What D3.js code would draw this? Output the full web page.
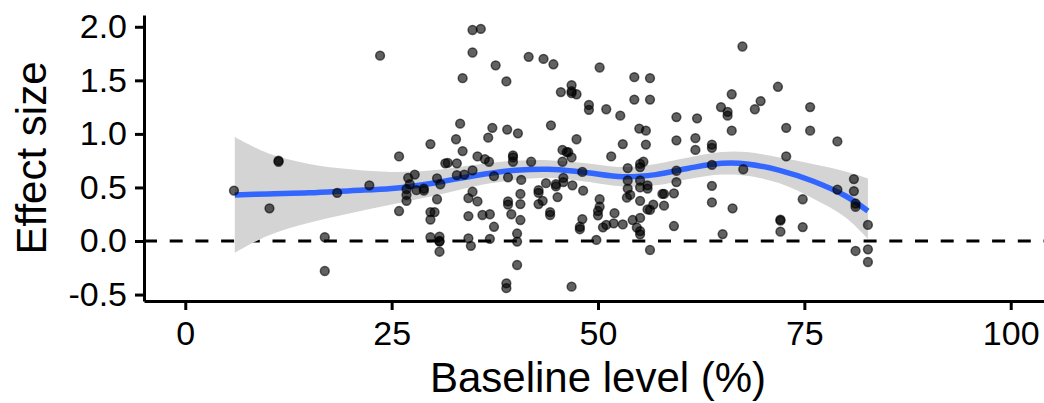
<!DOCTYPE html>
<html lang="en">
<head>
    <meta charset="UTF-8">
    <title>Effect size vs baseline level</title>
    <script src="https://d3js.org/d3.v7.min.js"></script>
    <style>
        body {
            margin: 0;
            background: #fff;
        }
        svg text {
            font-family: 'Liberation Sans', Arial, Helvetica, sans-serif;
            fill: #000;
        }
    </style>
</head>
<body>
    <div id="chart"></div>

    <script>
        // scatter points: baseline level (%) and effect size
        const baseline = [
            23.6, 5.9, 11.3, 11.3, 10.2, 18.4, 16.9, 16.9, 22.3, 25.9, 25.9, 29.7, 27.0, 27.8, 27.2, 26.8, 26.8, 26.8, 28.0, 28.9, 28.9, 30.5, 30.9, 30.5, 29.7, 30.2, 29.7, 29.7, 30.8, 30.8, 30.8, 30.8, 31.5,
            34.8, 35.8, 34.8, 33.6, 37.6, 38.9, 41.6, 43.4, 44.6, 50.2, 54.4, 56.3, 54.4, 56.3, 45.5, 46.8, 46.8, 46.8, 47.4, 48.9, 48.9, 51.0, 52.7,
            33.3, 37.2, 39.0, 40.3, 44.3, 55.0, 55.8, 32.8, 36.7, 47.4, 53.0, 55.8, 33.6, 35.4, 36.3, 36.8, 39.7, 39.7, 31.8, 32.9, 39.7, 41.9,
            45.7, 46.2, 46.4, 46.8, 45.7, 51.6, 34.8, 32.9, 33.8, 37.4, 39.1, 48.1, 53.6, 55.1, 55.1, 55.5, 40.7, 45.8, 45.8, 43.7, 44.9, 44.9,
            46.9, 53.6, 55.1, 53.6, 55.1, 56.0, 56.0, 34.8, 34.3, 35.4, 42.8, 42.8, 43.3, 42.8, 40.6, 40.6, 39.1, 39.1, 45.1, 48.2, 50.2, 50.2,
            50.0, 50.0, 52.0, 53.5, 53.9, 55.1, 56.7, 56.0, 56.3, 57.8, 34.3, 36.0, 36.9, 39.5, 40.6, 44.2, 44.2, 37.4, 40.2, 40.2, 36.9, 34.3,
            34.6, 48.1, 47.8, 47.8, 50.6, 51.0, 51.9, 53.0, 54.2, 55.1, 54.7, 55.1, 55.1, 49.8, 56.3, 40.2, 38.9, 38.9, 46.8,
            67.5, 71.8, 66.2, 69.7, 69.0, 64.9, 65.7, 65.7, 75.7, 59.5, 62.0, 66.2, 72.8, 75.7, 59.5, 61.8, 61.8, 63.8, 63.8, 79.0, 72.8, 63.8,
            59.5, 67.6, 59.5, 58.0, 59.2, 58.0, 63.8, 63.8, 66.3, 59.2, 65.1, 74.8, 74.8, 72.1, 72.1, 72.1, 79.0, 81.0, 81.0, 81.2, 81.2, 82.7,
            81.2, 82.7, 82.7
        ];
        const effect = [
            1.73, 0.47, 0.74, 0.75, 0.305, 0.45, 0.035, -0.28, 0.52, 0.79, 0.28, 0.905, 0.59, 0.62, 0.53, 0.485, 0.43, 0.375, 0.475, 0.49, 0.47, 0.585, 0.53, 0.39, 0.27, 0.27, 0.20, 0.035, 0.04, -0.005, 0.0, -0.10, 0.725,
            1.97, 1.98, 1.76, 1.52, 1.64, 1.49, 1.72, 1.70, 1.65, 1.62, 1.53, 1.52, 1.32, 1.32, 1.39, 1.455, 1.40, 1.38, 1.37, 1.27, 1.225, 1.23, 1.17,
            1.095, 1.057, 1.04, 1.005, 1.08, 1.05, 1.03, 0.95, 0.965, 0.95, 0.905, 0.90, 0.84, 0.79, 0.765, 0.74, 0.80, 0.78, 0.73, 0.725, 0.74, 0.74,
            0.85, 0.83, 0.83, 0.78, 0.74, 0.79, 0.66, 0.615, 0.62, 0.605, 0.595, 0.645, 0.68, 0.72, 0.69, 0.74, 0.57, 0.59, 0.55, 0.54, 0.53, 0.51,
            0.52, 0.565, 0.565, 0.49, 0.50, 0.52, 0.49, 0.46, 0.40, 0.37, 0.475, 0.45, 0.375, 0.345, 0.44, 0.345, 0.37, 0.34, 0.41, 0.47, 0.39, 0.32,
            0.28, 0.24, 0.26, 0.405, 0.43, 0.375, 0.34, 0.295, 0.29, 0.44, 0.233, 0.243, 0.25, 0.25, 0.196, 0.27, 0.243, 0.133, 0.07, -0.005, 0.02, 0.025,
            -0.045, 0.205, 0.133, 0.11, 0.128, 0.15, 0.165, 0.155, 0.196, 0.216, 0.126, 0.093, 0.062, 0.01, -0.084, -0.224, -0.395, -0.44, -0.426,
            1.816, 1.44, 1.37, 1.306, 1.23, 1.25, 1.206, 1.17, 1.25, 1.157, 1.145, 1.03, 1.057, 1.03, 0.94, 0.96, 0.85, 0.90, 0.87, 0.93, 0.79, 0.71,
            0.656, 0.67, 0.55, 0.44, 0.445, 0.33, 0.515, 0.36, 0.305, 0.14, 0.065, 0.39, 0.13, 0.19, 0.20, 0.087, 0.48, 0.578, 0.466, 0.35, 0.32, 0.15,
            -0.093, -0.078, -0.196
        ];

        // loess fit with its confidence band
        const fitX  = [6, 10, 15, 20, 25, 30, 35, 40, 44, 48, 53, 57, 61, 65, 68, 72, 76, 80, 82.7];
        const fitY  = [0.43, 0.44, 0.45, 0.47, 0.49, 0.54, 0.61, 0.66, 0.67, 0.645, 0.60, 0.62, 0.68, 0.725, 0.72, 0.66, 0.56, 0.42, 0.28];
        const fitLo = [-0.11, 0.05, 0.17, 0.26, 0.34, 0.42, 0.51, 0.57, 0.59, 0.56, 0.51, 0.52, 0.58, 0.62, 0.61, 0.54, 0.40, 0.22, 0.02];
        const fitHi = [0.97, 0.82, 0.72, 0.67, 0.645, 0.66, 0.71, 0.75, 0.755, 0.73, 0.69, 0.72, 0.78, 0.83, 0.83, 0.78, 0.72, 0.65, 0.585];

        const xTicks = [0, 25, 50, 75, 100];
        const yTicks = [-0.5, 0, 0.5, 1, 1.5, 2];
        const yTickLabels = ["-0.5", "0.0", "0.5", "1.0", "1.5", "2.0"];

        const width = 1044, height = 403;
        const panelLeft = 144, panelRight = 1052, panelTop = 15, panelBottom = 301;

        const svg = d3.select("#chart")
            .append("svg")
            .attr("width", width)
            .attr("height", height);

        const x = d3.scaleLinear().domain([-5, 105]).range([panelLeft, panelRight]);
        const y = d3.scaleLinear().domain([-0.56, 2.11]).range([panelBottom, panelTop]);

        // reference line at zero
        svg.append("line")
            .attr("x1", panelLeft).attr("x2", panelRight)
            .attr("y1", y(0)).attr("y2", y(0))
            .attr("stroke", "#000")
            .attr("stroke-width", 3)
            .attr("stroke-dasharray", "13,12.7");

        const fit = fitX.map((d, i) => ({x: d, y: fitY[i], lo: fitLo[i], hi: fitHi[i]}));

        svg.append("path")
            .datum(fit)
            .attr("fill", "#d4d4d4")
            .attr("d", d3.area()
                .x(d => x(d.x))
                .y0(d => y(d.lo))
                .y1(d => y(d.hi))
                .curve(d3.curveCatmullRom.alpha(0.5)));

        svg.append("path")
            .datum(fit)
            .attr("fill", "none")
            .attr("stroke", "#3366ff")
            .attr("stroke-width", 5.5)
            .attr("d", d3.line()
                .x(d => x(d.x))
                .y(d => y(d.y))
                .curve(d3.curveCatmullRom.alpha(0.5)));

        svg.append("g")
            .selectAll("circle")
            .data(baseline.map((d, i) => [d, effect[i]]))
            .enter().append("circle")
            .attr("cx", d => x(d[0]))
            .attr("cy", d => y(d[1]))
            .attr("r", 4.4)
            .attr("fill", "#000")
            .attr("fill-opacity", 0.62)
            .attr("stroke", "#000")
            .attr("stroke-opacity", 0.6)
            .attr("stroke-width", 1.5);

        // axes
        const xAxis = svg.append("g")
            .attr("transform", `translate(0,${panelBottom})`)
            .call(d3.axisBottom(x).tickValues(xTicks).tickSize(9).tickPadding(11).tickSizeOuter(0));

        const yAxis = svg.append("g")
            .attr("transform", `translate(${panelLeft},0)`)
            .call(d3.axisLeft(y).tickValues(yTicks).tickSize(9).tickPadding(8).tickSizeOuter(0)
                .tickFormat((d, i) => yTickLabels[i]));

        [xAxis, yAxis].forEach(a => {
            a.select(".domain").attr("stroke", "#000").attr("stroke-width", 3);
            a.selectAll(".tick line").attr("stroke", "#000").attr("stroke-width", 3);
            a.selectAll(".tick text").style("font-size", "34px").attr("fill", "#000");
        });

        svg.append("text")
            .attr("x", (panelLeft + panelRight) / 2)
            .attr("y", 392)
            .attr("text-anchor", "middle")
            .style("font-size", "42px")
            .text("Baseline level (%)");

        svg.append("text")
            .attr("transform", `translate(46,${(panelTop + panelBottom) / 2}) rotate(-90)`)
            .attr("text-anchor", "middle")
            .style("font-size", "42px")
            .text("Effect size");
    </script>
</body>
</html>
